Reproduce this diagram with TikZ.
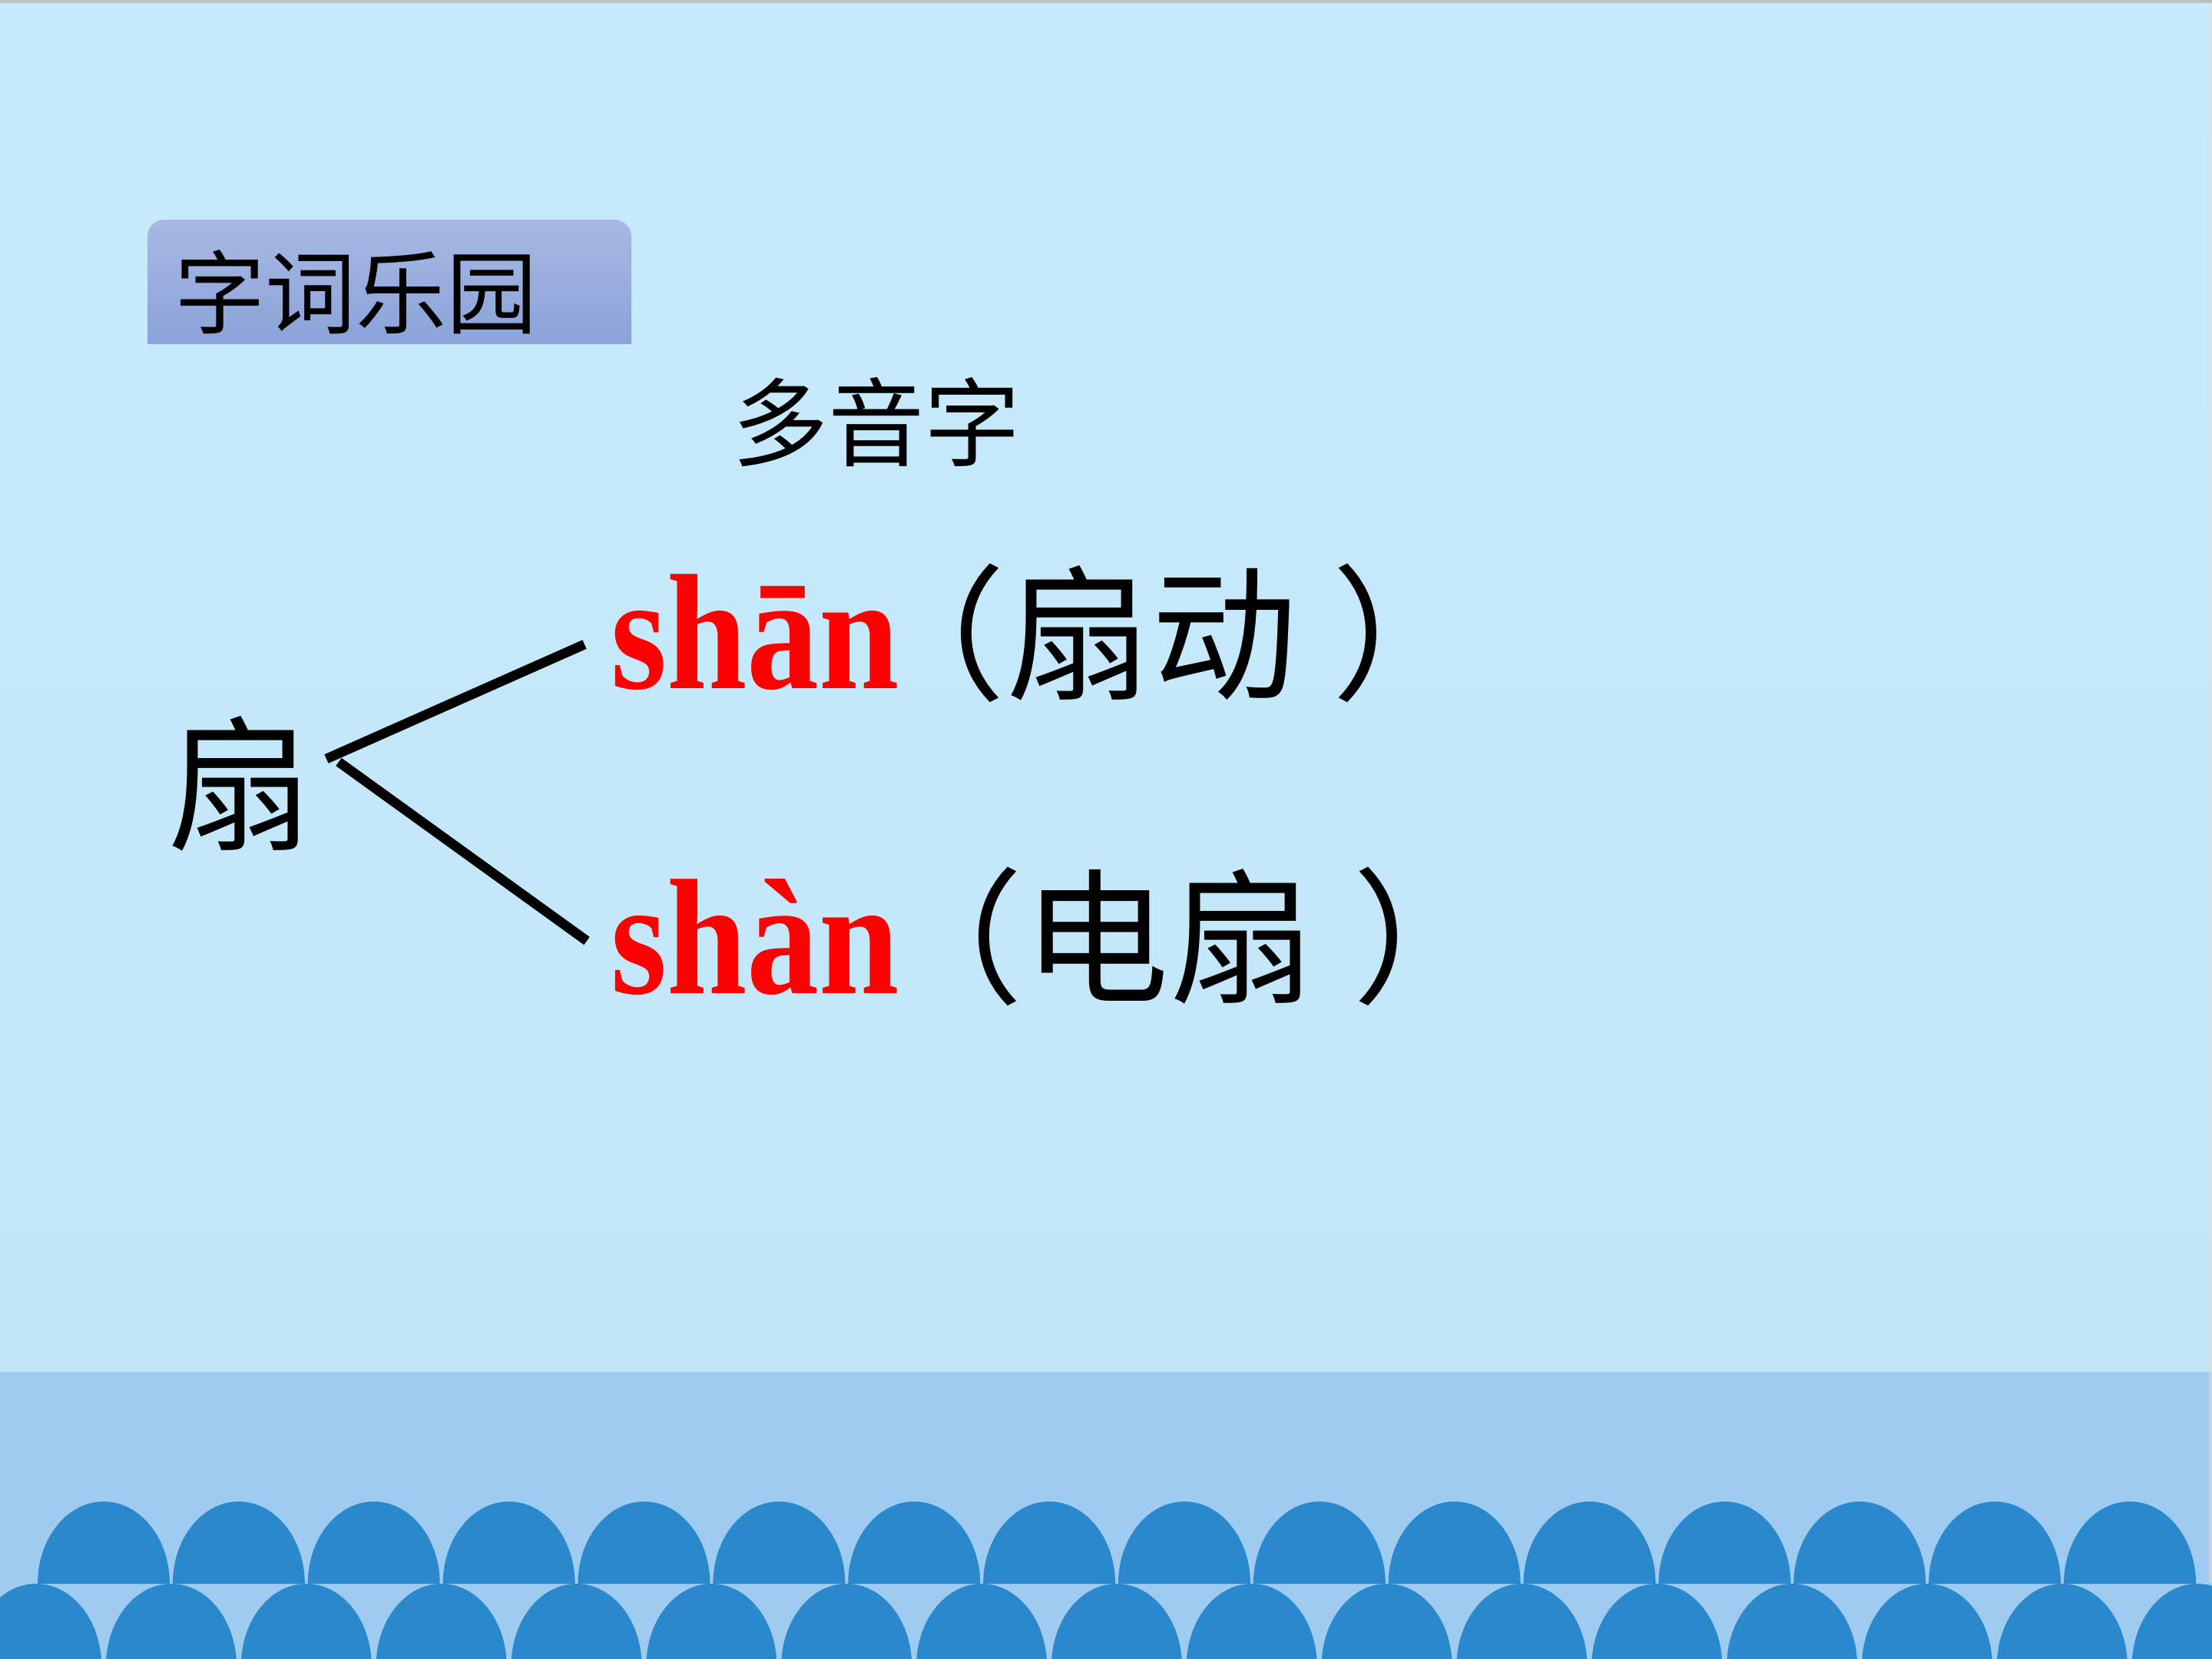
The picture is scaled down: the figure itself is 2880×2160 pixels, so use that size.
\documentclass[tikz,border=0pt]{standalone}
\usepackage{fontspec}
\usepackage{graphicx}
\newfontfamily\cjk{Noto Sans CJK SC}
\newfontfamily\pyfont{Liberation Serif}
\definecolor{bgtop}{HTML}{C7EAFC}
\definecolor{bgbot}{HTML}{C2E5F7}
\definecolor{band}{HTML}{9ECBEF}
\definecolor{dome}{HTML}{2A88CC}
\definecolor{boxtop}{HTML}{A8B8E2}
\definecolor{boxbot}{HTML}{8AA3D9}
\definecolor{pyred}{HTML}{FF0000}
\newcommand{\py}[1]{\scalebox{0.875}[1]{\color{pyred}\pyfont\bfseries\fontsize{61}{70}\selectfont #1}}
\newcommand{\hz}[2]{\raisebox{#1}{\color{black}\cjk\fontsize{54}{60}\selectfont #2}}
\begin{document}
\begin{tikzpicture}[x=0.01cm,y=-0.01cm,
  cjktext/.style={inner sep=0pt, outer sep=0pt, text=black},
  rowtext/.style={inner sep=0pt, outer sep=0pt, anchor=base west},
  conn/.style={line width=3.6pt, black, line cap=butt}]
\useasboundingbox (0,0) rectangle (2880,2160);
% background
\shade[top color=bgtop, bottom color=bgbot] (0,0) rectangle (2880,1786);
\fill[black!25] (0,0) rectangle (2880,4);
\fill[band] (0,1786) rectangle (2880,2160);
\fill[black!12, opacity=0.5] (2876,4) rectangle (2880,2060);
% domes
\foreach \k in {0,...,15}
  \fill[dome] ({49+175.87*\k},2062) arc[start angle=180, end angle=360, x radius=86, y radius=107] -- cycle;
\foreach \k in {0,...,17}
  \fill[dome] ({-37.9+175.85*\k},2169) arc[start angle=180, end angle=360, x radius=85, y radius=107] -- cycle;
% title box
\shade[top color=boxtop, bottom color=boxbot] (192,448) -- (192,308) arc[start angle=180, end angle=270, radius=22] -- (800,286) arc[start angle=270, end angle=360, radius=22] -- (822,448) -- cycle;
\node[cjktext, anchor=west, font=\cjk\fontsize{33.6}{40}\selectfont] (title) at (227,380) {字词乐园};
\node[cjktext, anchor=west, font=\cjk\fontsize{35.6}{42}\selectfont] (dyz) at (953,549.5) {多音字};
\node[cjktext, anchor=west, font=\cjk\fontsize{54}{60}\selectfont] (zi) at (217,1020) {扇};
\node[rowtext] (row1) at (795,896) {\py{shān}\kern-14.5pt\hz{0pt}{（扇动\kern12.8pt）}};
\node[rowtext] (row2) at (795,1293) {\py{shàn}\kern-8pt\hz{0.5pt}{（电扇\kern13.9pt）}};
% connectors
\coordinate (j1) at (425,988);
\coordinate (j2) at (441,992);
\coordinate (e1) at (761,839);
\coordinate (e2) at (764,1225);
\draw[conn] (j1) -- (e1);
\draw[conn] (j2) -- (e2);
\end{tikzpicture}
\end{document}
